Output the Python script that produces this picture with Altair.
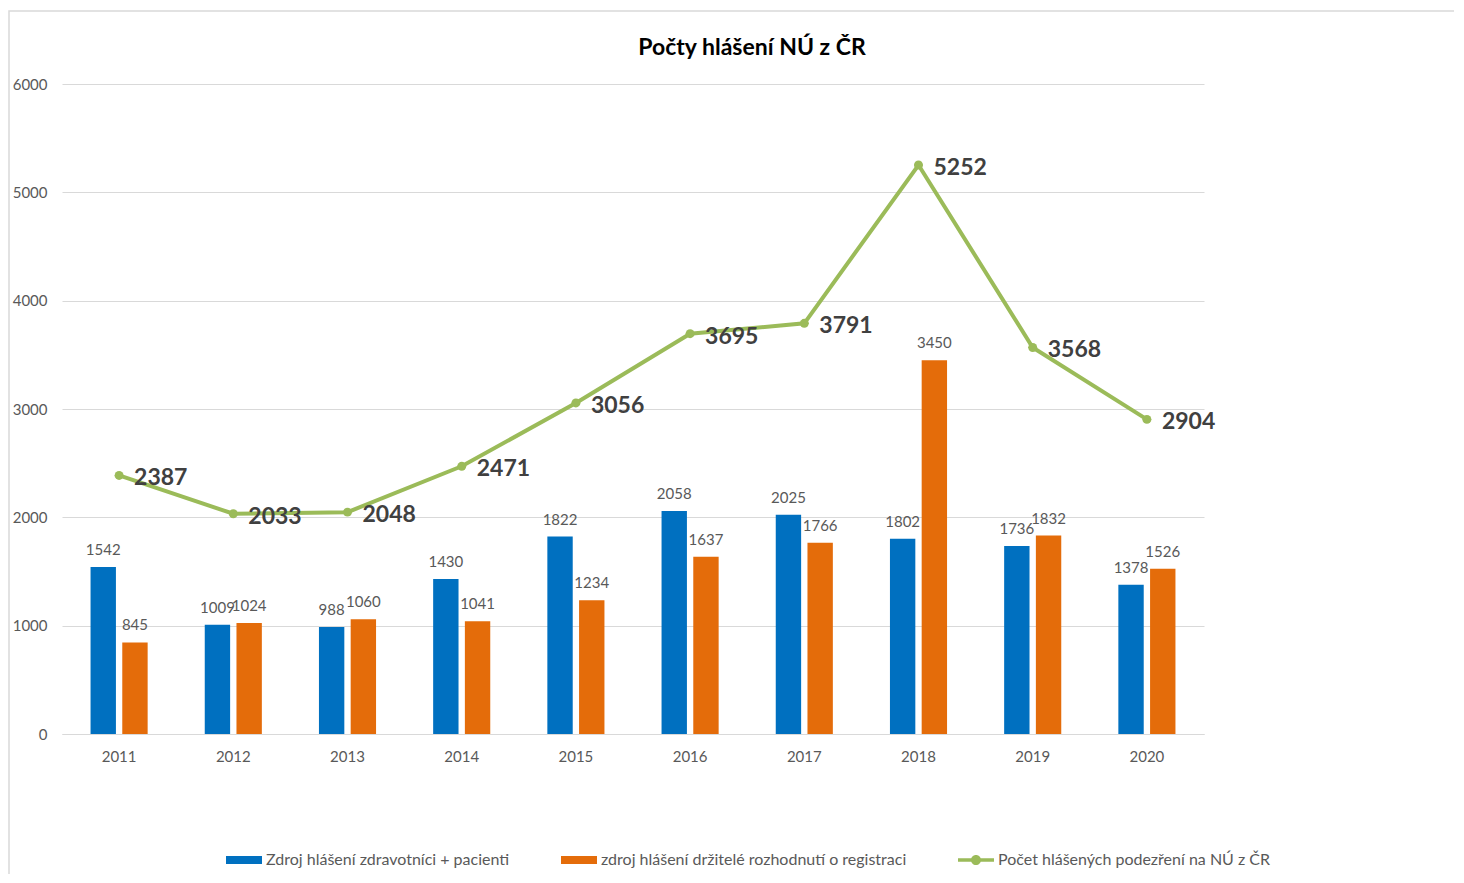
import altair as alt
import pandas as pd

years = ["2011", "2012", "2013", "2014", "2015", "2016", "2017", "2018", "2019", "2020"]
blue_values = [1542, 1009, 988, 1430, 1822, 2058, 2025, 1802, 1736, 1378]
orange_values = [845, 1024, 1060, 1041, 1234, 1637, 1766, 3450, 1832, 1526]
total_values = [2387, 2033, 2048, 2471, 3056, 3695, 3791, 5252, 3568, 2904]
series_names = [
    "Zdroj hlášení zdravotníci + pacienti",
    "zdroj hlášení držitelé rozhodnutí o registraci",
    "Počet hlášených podezření na NÚ z ČR",
]
colors = ["#0070C0", "#E46C0A", "#9BBB59"]
title_text = "Počty hlášení NÚ z ČR"
y_ticks = [0, 1000, 2000, 3000, 4000, 5000, 6000]

bars_df = pd.DataFrame({
    "year": years * 2,
    "series": [series_names[0]] * len(years) + [series_names[1]] * len(years),
    "value": blue_values + orange_values,
})
line_df = pd.DataFrame({
    "year": years,
    "series": [series_names[2]] * len(years),
    "value": total_values,
})
dummy = pd.DataFrame({"a": [0]})

FONT = "Lato"
GRAY = "#595959"

x = alt.X("year:N", scale=alt.Scale(paddingInner=0.5, paddingOuter=0.25),
          axis=alt.Axis(title=None, labelAngle=0, ticks=False, domainColor="#d9d9d9",
                        domainWidth=1, labelPadding=15, grid=False, labelFontSize=15,
                        labelColor=GRAY, labelFont=FONT))
y = alt.Y("value:Q", scale=alt.Scale(domain=[0, 6000], nice=False),
          axis=alt.Axis(title=None, values=y_ticks, format="d", ticks=False, domain=False,
                        gridColor="#d9d9d9", gridWidth=1, labelPadding=15, labelFontSize=15,
                        labelColor=GRAY, labelFont=FONT))
color_scale = alt.Scale(domain=series_names, range=colors)
shape_scale = alt.Scale(domain=series_names, range=[
    "M-1,-0.22L1,-0.22L1,0.22L-1,0.22Z",
    "M-1,-0.22L1,-0.22L1,0.22L-1,0.22Z",
    "M-1,-0.1L1,-0.1L1,0.1L-1,0.1Z M0.28,0A0.28,0.28 0 1,1 -0.28,0A0.28,0.28 0 1,1 0.28,0Z",
])
xoff = alt.XOffset("series:N", scale=alt.Scale(domain=series_names[:2], paddingInner=0.2, paddingOuter=0))

legend = alt.Legend(title=None, orient="none", legendX=164, legendY=758, direction="horizontal",
                    columns=3, columnPadding=51, labelOffset=4, labelFontSize=16,
                    labelColor=GRAY, labelFont=FONT, symbolSize=1296, symbolStrokeWidth=0,
                    labelLimit=500, padding=0)

frame = alt.Chart(dummy).mark_rect(fillOpacity=0, stroke="#d9d9d9", strokeWidth=1.5).encode(
    x=alt.value(-53), y=alt.value(-73), x2=alt.value(1420), y2=alt.value(800))

title = alt.Chart(dummy).mark_text(text=title_text, fontSize=23, fontWeight="bold", color="#000000",
                                   font=FONT, align="center", baseline="middle").encode(
    x=alt.value(690), y=alt.value(-36))

bars = alt.Chart(bars_df).mark_bar().encode(
    x=x, xOffset=xoff, y=y,
    color=alt.Color("series:N", scale=color_scale, legend=legend))

bar_labels = alt.Chart(bars_df).mark_text(dy=-12, baseline="alphabetic", fontSize=15,
                                          color=GRAY, font=FONT).encode(
    x=x, xOffset=xoff, y=y, text="value:Q")

line = alt.Chart(line_df).mark_line(strokeWidth=4, color=colors[2]).encode(x=x, y=y)
line_labels = alt.Chart(line_df).mark_text(align="left", baseline="middle", dx=15, dy=3, fontSize=23,
                                           fontWeight="bold", color="#404040", font=FONT).encode(
    x=x, y=y, text="value:Q")

# visible circles on the line; their shape channel only feeds the merged legend
points = alt.Chart(line_df).mark_point(filled=True, opacity=1, size=80).encode(
    x=x, y=y,
    color=alt.Color("series:N", scale=color_scale, legend=legend),
    shape=alt.Shape("series:N", scale=shape_scale, legend=legend))
dots = alt.Chart(line_df).mark_circle(size=80, color=colors[2], opacity=1).encode(x=x, y=y)

chart = alt.layer(frame, title, bars, bar_labels, line, points, dots, line_labels).properties(
    width=1142, height=650,
    autosize=alt.AutoSizeParams(type="none"),
    padding={"left": 54, "top": 76, "right": 250, "bottom": 140},
).configure(font=FONT).configure_view(strokeWidth=0, stroke="transparent")

chart.save("out.html", embed_options={"renderer": "svg", "actions": False})
